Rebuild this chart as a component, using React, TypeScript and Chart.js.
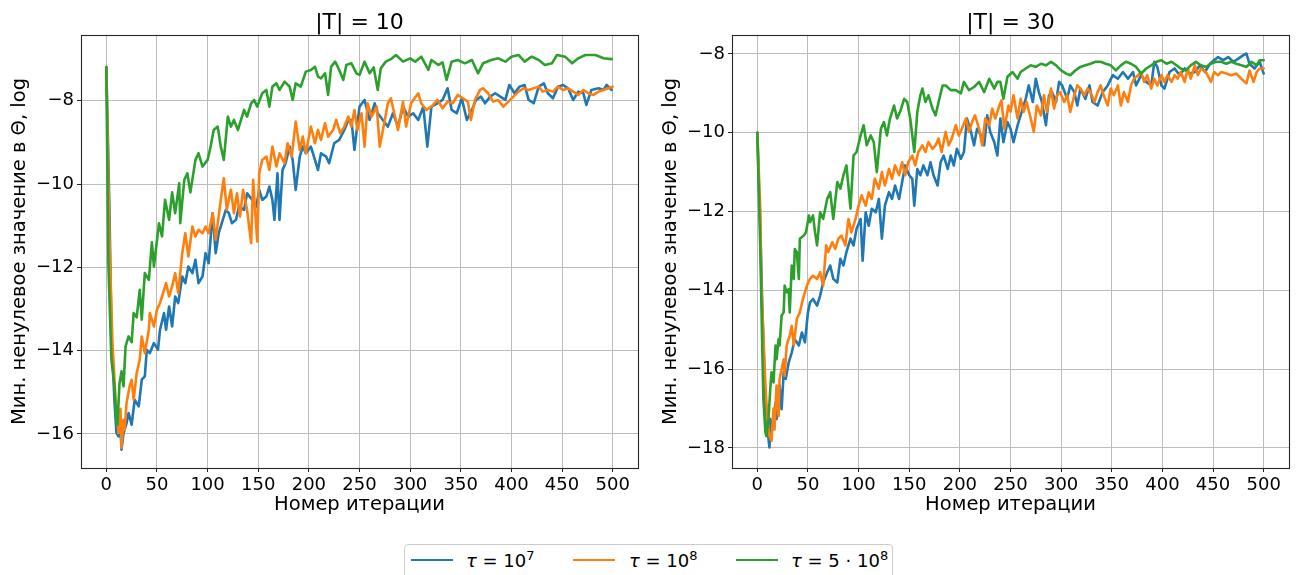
import React, { useEffect, useRef } from "react";
import { Chart, registerables } from "chart.js";

Chart.register(...registerables);

// ---- data: [iteration, log10 of min nonzero value in Θ] ----

const ITER_TICKS = [0, 50, 100, 150, 200, 250, 300, 350, 400, 450, 500];
const Y_TICKS_T10 = [-16, -14, -12, -10, -8];
const Y_TICKS_T30 = [-18, -16, -14, -12, -10, -8];

const SERIES_LABELS = ["τ = 10^7", "τ = 10^8", "τ = 5·10^8"];

const T10_TAU_1E7: [number, number][] = [
  [0, -7.19], [3, -10.5], [5, -13.5], [8, -15.2], [10, -15.98], [12, -16.06], [14, -15.9], [15, -16.38],
  [17, -15.98], [20, -15.74], [22, -15.5], [25, -15.78], [28, -15.18], [32, -15.34], [35, -14.7], [38, -14.62],
  [40, -13.98], [43, -14.06], [47, -13.82], [51, -13.98], [53, -13.5], [57, -13.1], [59, -13.5], [62, -12.94],
  [65, -13.42], [68, -12.7], [71, -12.86], [75, -12.22], [78, -12.38], [81, -11.98], [85, -12.14], [88, -11.82],
  [91, -12.38], [95, -12.22], [98, -11.66], [101, -11.9], [105, -10.7], [108, -11.66], [111, -11.18], [115, -10.86],
  [118, -10.62], [121, -10.7], [124, -10.94], [128, -10.86], [131, -10.54], [136, -10.62], [139, -10.22], [144, -10.38],
  [148, -10.54], [151, -10.14], [154, -10.38], [158, -10.3], [161, -10.06], [164, -10.38], [166, -10.86], [169, -9.74],
  [171, -10.86], [174, -9.66], [177, -9.5], [181, -9.1], [184, -9.42], [187, -10.14], [191, -9.34], [194, -9.1],
  [197, -9.26], [202, -9.1], [206, -9.42], [209, -9.66], [212, -9.26], [217, -9.34], [220, -9.5], [225, -9.02],
  [230, -8.94], [235, -8.7], [239, -8.46], [242, -8.46], [245, -9.18], [250, -8.14], [255, -7.98], [260, -8.46],
  [265, -8.06], [268, -8.3], [273, -8.46], [278, -8.62], [283, -8.3], [288, -8.62], [293, -8.14], [298, -8.38],
  [303, -8.3], [308, -8.46], [313, -8.14], [317, -9.1], [321, -8.14], [327, -8.06], [332, -7.98], [337, -7.7],
  [341, -8.22], [346, -8.3], [351, -7.94], [356, -8.46], [361, -8.22], [365, -7.98], [370, -7.9], [374, -8.06],
  [379, -7.9], [384, -7.82], [389, -7.9], [394, -7.98], [398, -7.62], [403, -7.82], [408, -7.66], [413, -7.62],
  [417, -7.98], [422, -8.06], [427, -7.66], [432, -7.58], [436, -7.82], [441, -7.94], [446, -7.66], [451, -7.62],
  [456, -7.7], [461, -7.98], [466, -7.78], [471, -7.82], [474, -8.1], [479, -7.74], [486, -7.7], [491, -7.74],
  [494, -7.62], [499, -7.74],
];

const T10_TAU_1E8: [number, number][] = [
  [0, -7.19], [3, -11.2], [6, -13.8], [9, -15.1], [10, -15.34], [12, -15.98], [14, -15.4], [15, -16.34],
  [17, -15.66], [18, -15.9], [20, -15.26], [23, -14.86], [25, -14.7], [27, -15.18], [30, -14.54], [33, -14.22],
  [35, -13.66], [38, -14.06], [42, -13.5], [43, -13.1], [47, -13.42], [50, -13.02], [53, -12.86], [57, -12.54],
  [59, -12.38], [62, -12.7], [65, -12.46], [68, -12.14], [71, -12.62], [75, -11.66], [78, -11.18], [81, -11.74],
  [85, -11.02], [88, -11.26], [91, -11.1], [95, -11.18], [98, -11.02], [101, -11.18], [105, -10.7], [108, -11.34],
  [113, -10.38], [116, -9.86], [119, -10.62], [123, -10.14], [126, -10.7], [129, -10.22], [132, -10.78], [135, -10.14],
  [139, -10.62], [143, -11.42], [145, -9.9], [149, -11.38], [151, -9.74], [154, -9.42], [158, -9.34], [161, -9.66],
  [164, -9.1], [168, -9.58], [171, -9.26], [176, -9.5], [179, -9.02], [183, -9.34], [187, -8.5], [191, -9.18],
  [194, -8.86], [197, -9.26], [202, -8.62], [206, -9.02], [209, -8.7], [212, -8.94], [216, -8.54], [219, -8.86],
  [224, -8.7], [227, -8.46], [231, -8.78], [235, -8.62], [239, -8.38], [242, -8.62], [245, -8.22], [248, -8.7],
  [252, -8.3], [255, -9.1], [258, -8.06], [262, -8.38], [267, -8.14], [270, -9.1], [275, -8.46], [278, -8.06],
  [281, -7.94], [288, -8.7], [293, -8.02], [296, -8.62], [301, -8.06], [308, -7.82], [311, -8.06], [316, -8.22],
  [321, -8.14], [327, -7.98], [332, -8.18], [337, -8.02], [342, -8.06], [347, -7.86], [352, -7.94], [357, -8.02],
  [360, -8.46], [364, -7.98], [369, -7.74], [372, -7.7], [377, -7.82], [382, -8.02], [387, -7.98], [392, -8.14],
  [397, -8.02], [402, -7.9], [407, -7.78], [412, -7.7], [417, -7.74], [422, -7.7], [427, -7.66], [431, -7.78],
  [436, -7.74], [441, -7.78], [446, -7.66], [451, -7.74], [456, -7.7], [461, -7.78], [466, -7.86], [471, -7.74],
  [476, -7.82], [481, -7.86], [486, -7.78], [491, -7.74], [496, -7.7], [500, -7.66],
];

const T10_TAU_5E8: [number, number][] = [
  [0, -7.19], [2, -11.9], [5, -14.2], [8, -14.86], [10, -15.74], [11, -15.78], [13, -14.8], [15, -14.5],
  [17, -14.86], [19, -13.9], [22, -13.66], [25, -13.8], [27, -13.1], [30, -13.2], [33, -12.54], [35, -13.26],
  [38, -12.14], [42, -12.3], [45, -11.4], [47, -11.98], [52, -10.94], [55, -11.26], [58, -10.38], [62, -10.86],
  [65, -10.2], [68, -10.7], [72, -9.98], [73, -10.94], [77, -9.9], [80, -9.74], [83, -10.2], [88, -9.42],
  [91, -9.26], [95, -9.58], [100, -9.42], [103, -9.1], [106, -8.7], [110, -8.62], [113, -9.1], [116, -9.42],
  [120, -8.38], [123, -8.62], [126, -8.46], [130, -8.7], [133, -8.46], [136, -8.22], [139, -8.38], [143, -8.06],
  [146, -7.98], [149, -8.14], [154, -7.82], [158, -7.74], [161, -8.14], [164, -7.66], [168, -7.58], [171, -7.74],
  [176, -7.54], [181, -7.66], [184, -7.98], [187, -7.58], [192, -7.66], [197, -7.3], [202, -7.26], [206, -7.18],
  [209, -7.42], [212, -7.46], [216, -7.34], [219, -7.86], [222, -7.18], [226, -7.06], [230, -7.26], [234, -7.5],
  [237, -7.14], [242, -7.1], [247, -7.34], [250, -7.38], [255, -7.06], [260, -7.34], [264, -7.2], [268, -7.74],
  [271, -7.22], [276, -7.06], [281, -7.0], [286, -6.9], [293, -7.06], [300, -6.98], [305, -7.06], [311, -6.94],
  [318, -7.26], [321, -7.02], [328, -7.14], [332, -7.08], [336, -7.5], [341, -7.06], [347, -7.02], [354, -7.1],
  [361, -7.02], [367, -7.34], [372, -7.1], [380, -7.02], [387, -6.98], [394, -7.06], [400, -6.94], [407, -6.9],
  [413, -7.06], [420, -6.94], [427, -7.02], [433, -7.14], [440, -7.1], [445, -6.9], [453, -6.94], [460, -7.1],
  [466, -6.98], [473, -6.9], [483, -6.9], [491, -6.98], [499, -7.0],
];

const T30_TAU_1E7: [number, number][] = [
  [0, -10.0], [3, -12.5], [5, -14.5], [8, -16.85], [10, -17.53], [12, -17.99], [13, -17.27], [15, -17.53],
  [18, -16.85], [19, -17.27], [22, -16.42], [24, -17.02], [26, -16.08], [28, -16.25], [31, -15.83], [34, -15.58],
  [37, -15.24], [41, -15.4], [44, -15.07], [47, -15.32], [50, -14.56], [52, -14.31], [55, -14.22], [59, -14.39],
  [62, -14.14], [65, -13.8], [69, -13.54], [72, -13.37], [75, -13.71], [79, -13.8], [82, -13.2], [85, -13.37],
  [88, -13.03], [92, -12.69], [95, -12.86], [98, -12.44], [102, -12.19], [104, -13.25], [107, -12.02], [110, -12.36],
  [113, -11.93], [117, -12.02], [120, -11.68], [123, -12.69], [126, -11.85], [130, -11.51], [133, -11.68], [136, -11.34],
  [140, -11.68], [143, -11.25], [146, -10.83], [150, -11.08], [153, -11.17], [155, -11.85], [158, -10.92], [161, -11.08],
  [164, -10.83], [168, -11.08], [171, -10.75], [174, -11.08], [178, -11.34], [181, -10.75], [184, -10.58], [188, -10.92],
  [191, -10.58], [194, -10.83], [197, -10.41], [201, -10.66], [204, -10.49], [207, -9.64], [211, -9.98], [214, -10.32],
  [217, -9.9], [221, -10.07], [224, -10.32], [227, -9.56], [230, -9.98], [234, -10.24], [237, -10.58], [240, -9.64],
  [243, -10.24], [247, -9.73], [250, -9.9], [253, -10.24], [257, -9.81], [260, -9.56], [265, -9.14], [268, -8.8],
  [272, -9.22], [275, -8.63], [278, -8.97], [281, -9.22], [285, -9.81], [288, -9.05], [291, -8.97], [295, -9.22],
  [298, -8.71], [301, -8.8], [306, -9.14], [309, -8.8], [313, -8.97], [316, -9.31], [319, -8.88], [324, -9.14],
  [328, -8.8], [331, -9.22], [336, -9.31], [341, -8.97], [346, -8.8], [351, -8.54], [356, -8.63], [361, -8.46],
  [366, -8.63], [371, -8.46], [374, -8.8], [379, -8.54], [384, -8.71], [389, -8.8], [392, -8.2], [395, -8.33],
  [399, -8.8], [402, -8.88], [407, -8.46], [412, -8.37], [417, -8.54], [422, -8.37], [427, -8.5], [432, -8.46],
  [437, -8.29], [442, -8.46], [447, -8.25], [451, -8.16], [455, -8.08], [460, -8.16], [465, -8.08], [470, -8.2],
  [475, -8.12], [480, -8.03], [483, -7.99], [486, -8.25], [491, -8.37], [496, -8.2], [500, -8.5],
];

const T30_TAU_1E8: [number, number][] = [
  [0, -10.0], [3, -12.0], [4, -13.9], [8, -16.42], [10, -17.27], [12, -17.7], [14, -17.82], [16, -17.0],
  [17, -17.53], [19, -16.42], [21, -17.19], [22, -16.25], [24, -16.0], [26, -15.75], [27, -16.17], [29, -15.4],
  [32, -15.15], [34, -14.9], [36, -15.4], [39, -14.73], [42, -14.56], [45, -14.22], [49, -13.88], [52, -13.71],
  [55, -13.63], [59, -13.71], [62, -13.54], [65, -13.88], [68, -12.86], [70, -13.03], [74, -12.78], [77, -12.95],
  [80, -12.69], [83, -12.61], [87, -12.86], [90, -12.19], [93, -12.53], [97, -12.19], [100, -11.85], [103, -11.59],
  [107, -11.85], [110, -11.51], [113, -11.68], [116, -11.17], [120, -11.42], [123, -11.0], [126, -11.34], [130, -10.92],
  [133, -11.17], [136, -10.83], [140, -11.08], [143, -10.75], [146, -11.08], [149, -10.75], [153, -10.58], [156, -10.83],
  [159, -10.49], [163, -10.32], [166, -10.49], [169, -10.24], [173, -10.41], [176, -10.32], [179, -10.15], [182, -10.49],
  [186, -9.98], [189, -10.32], [192, -10.15], [196, -9.81], [199, -10.07], [202, -9.9], [206, -9.64], [209, -9.98],
  [212, -9.73], [215, -9.56], [219, -9.9], [222, -10.32], [225, -9.64], [229, -9.81], [232, -9.39], [235, -9.64],
  [239, -9.31], [241, -9.18], [244, -9.9], [248, -9.31], [250, -9.47], [253, -9.05], [257, -9.64], [260, -9.14],
  [263, -9.47], [266, -9.22], [270, -9.64], [273, -9.98], [276, -9.31], [280, -9.56], [283, -9.05], [286, -9.47],
  [290, -8.88], [293, -9.39], [296, -9.05], [299, -8.97], [303, -9.22], [306, -9.05], [309, -9.47], [313, -9.05],
  [316, -8.8], [319, -8.88], [323, -9.05], [326, -8.88], [329, -8.97], [333, -9.22], [336, -8.97], [339, -8.8],
  [342, -9.05], [346, -9.31], [349, -8.88], [352, -9.05], [356, -8.8], [359, -9.31], [362, -8.97], [366, -9.22],
  [369, -8.8], [372, -8.63], [376, -8.54], [379, -8.46], [382, -8.71], [385, -8.54], [389, -8.88], [392, -8.63],
  [395, -8.8], [399, -8.54], [402, -8.71], [405, -8.54], [409, -8.71], [412, -8.54], [415, -8.63], [418, -8.46],
  [422, -8.71], [425, -8.37], [428, -8.63], [432, -8.29], [435, -8.54], [438, -8.37], [443, -8.46], [448, -8.71],
  [451, -8.46], [455, -8.54], [458, -8.46], [463, -8.5], [468, -8.54], [473, -8.5], [478, -8.63], [483, -8.75],
  [486, -8.42], [490, -8.71], [493, -8.46], [496, -8.37], [500, -8.37],
];

const T30_TAU_5E8: [number, number][] = [
  [0, -10.0], [3, -13.03], [5, -15.58], [6, -16.76], [8, -17.6], [9, -17.7], [11, -17.27], [13, -16.42],
  [14, -16.08], [16, -16.34], [18, -15.4], [19, -15.75], [21, -15.24], [22, -15.4], [24, -14.64], [26, -14.56],
  [27, -13.88], [29, -14.05], [31, -13.97], [32, -14.56], [34, -13.37], [36, -13.71], [37, -12.95], [39, -13.03],
  [41, -13.71], [42, -12.69], [46, -12.61], [48, -12.53], [51, -12.1], [52, -12.27], [55, -12.1], [57, -12.53],
  [59, -12.86], [62, -12.02], [65, -12.19], [69, -11.68], [72, -11.51], [75, -12.19], [79, -11.25], [82, -11.42],
  [85, -11.08], [88, -10.83], [92, -11.93], [95, -10.58], [98, -10.49], [102, -10.07], [105, -9.81], [108, -10.32],
  [112, -10.07], [115, -10.24], [118, -11.0], [122, -9.9], [125, -9.73], [128, -10.07], [131, -9.64], [135, -9.31],
  [138, -9.64], [141, -9.47], [145, -9.14], [148, -9.22], [151, -9.64], [155, -10.49], [158, -9.47], [161, -9.05],
  [163, -8.88], [166, -9.22], [169, -9.05], [173, -9.39], [176, -9.56], [179, -9.22], [183, -8.8], [186, -8.8],
  [191, -8.92], [196, -8.92], [201, -9.0], [204, -8.71], [209, -8.92], [214, -8.84], [219, -8.71], [224, -8.97],
  [229, -8.63], [234, -8.88], [237, -8.71], [240, -8.71], [243, -9.14], [247, -8.58], [252, -8.46], [257, -8.63],
  [260, -8.46], [265, -8.37], [270, -8.29], [275, -8.33], [280, -8.25], [285, -8.29], [290, -8.2], [295, -8.29],
  [300, -8.42], [305, -8.5], [309, -8.54], [314, -8.42], [319, -8.33], [324, -8.29], [329, -8.25], [334, -8.2],
  [339, -8.2], [344, -8.25], [349, -8.29], [354, -8.42], [359, -8.29], [364, -8.2], [369, -8.25], [374, -8.33],
  [379, -8.5], [384, -8.37], [389, -8.29], [394, -8.2], [399, -8.16], [404, -8.25], [409, -8.2], [414, -8.29],
  [418, -8.37], [423, -8.42], [428, -8.29], [433, -8.2], [438, -8.29], [443, -8.33], [448, -8.25], [453, -8.2],
  [458, -8.2], [463, -8.25], [468, -8.2], [473, -8.25], [478, -8.29], [483, -8.33], [488, -8.2], [493, -8.29],
  [496, -8.16], [500, -8.16],
];

// ---- styling ----

const COLORS = ["#1f77b4", "#ff7f0e", "#2ca02c"];
const FONT = "DejaVu Sans";
const Y_TITLE = "Мин. ненулевое значение в Θ, log";
const X_TITLE = "Номер итерации";

const fmtTick = (v: number) => (v < 0 ? "\u2212" + Math.abs(v) : String(v));

// full rectangular frame around the plot area
const framePlugin = {
  id: "frame",
  afterDatasetsDraw(chart: any) {
    const { ctx, chartArea: a } = chart;
    ctx.save();
    ctx.strokeStyle = "#262626";
    ctx.lineWidth = 1.1;
    ctx.strokeRect(Math.round(a.left) + 0.5, Math.round(a.top) + 0.5, Math.round(a.right - a.left), Math.round(a.bottom - a.top));
    ctx.restore();
  },
};

type PanelProps = {
  title: string;
  series: [number, number][][];
  yMin: number;
  yMax: number;
  yTicks: number[];
  left: number;
};

function Panel({ title, series, yMin, yMax, yTicks, left }: PanelProps) {
  const ref = useRef<HTMLCanvasElement | null>(null);

  useEffect(() => {
    if (!ref.current) return;
    const grid = {
      color: "#bcbcbc",
      lineWidth: 1,
      drawTicks: true,
      tickLength: 4,
      tickColor: "#262626",
      tickWidth: 1,
    };
    const tickFont = { family: FONT, size: 18 };
    const axisTitleFont = { family: FONT, size: 19.5 };
    const chart = new Chart(ref.current, {
      type: "line",
      data: {
        datasets: series.map((s, i) => ({
          label: SERIES_LABELS[i],
          data: s.map(([x, y]) => ({ x, y })),
          borderColor: COLORS[i],
          backgroundColor: COLORS[i],
          borderWidth: 2.6,
          borderJoinStyle: "round" as const,
          borderCapStyle: "round" as const,
          pointRadius: 0,
          tension: 0,
          fill: false,
          order: 3 - i,
        })),
      },
      options: {
        animation: false,
        responsive: false,
        maintainAspectRatio: false,
        devicePixelRatio: 1,
        events: [],
        layout: { padding: { left: 0, right: 12, top: 0, bottom: 0 } },
        plugins: {
          legend: { display: false },
          tooltip: { enabled: false },
          title: {
            display: true,
            text: title,
            fullSize: false,
            color: "#000",
            font: { family: FONT, size: 22, weight: "normal", lineHeight: 1 },
            padding: { top: 12, bottom: 1 },
          },
        },
        scales: {
          x: {
            type: "linear",
            min: -25,
            max: 525,
            afterBuildTicks: (s: any) => {
              s.ticks = ITER_TICKS.map((v) => ({ value: v }));
            },
            afterFit: (s: any) => {
              s.height = 52;
            },
            grid,
            border: { display: false },
            ticks: { font: tickFont, color: "#000", padding: 3, maxRotation: 0, autoSkip: false, callback: (v: any) => fmtTick(Number(v)) },
            title: { display: true, text: X_TITLE, color: "#000", font: axisTitleFont, padding: { top: 0, bottom: 3 } },
          },
          y: {
            type: "linear",
            min: yMin,
            max: yMax,
            afterBuildTicks: (s: any) => {
              s.ticks = yTicks.map((v) => ({ value: v }));
            },
            afterFit: (s: any) => {
              s.width = 81;
            },
            grid,
            border: { display: false },
            ticks: { font: tickFont, color: "#000", padding: 3, autoSkip: false, callback: (v: any) => fmtTick(Number(v)) },
            title: { display: true, text: Y_TITLE, color: "#000", font: axisTitleFont, padding: { top: 8, bottom: 0 } },
          },
        },
      },
      plugins: [framePlugin],
    } as any);
    return () => chart.destroy();
  }, [title, series, yMin, yMax, yTicks]);

  return (
    <canvas
      ref={ref}
      width={650}
      height={520}
      style={{ position: "absolute", left, top: 0, width: 650, height: 520 }}
    />
  );
}

function LegendEntry({ color, lineLeft, textLeft, base, power }: { color: string; lineLeft: number; textLeft: number; base: string; power: string }) {
  return (
    <>
      <div style={{ position: "absolute", left: lineLeft, top: 14, width: 42, height: 2.4, background: color }} />
      <div style={{ position: "absolute", left: textLeft, top: 5, fontFamily: FONT, fontSize: 18, lineHeight: "22px", color: "#000", whiteSpace: "nowrap" }}>
        <span style={{ fontStyle: "italic" }}>τ</span>
        {" = " + base}
        <span style={{ fontSize: 13, position: "relative", top: -7 }}>{power}</span>
      </div>
    </>
  );
}

export default function App() {
  return (
    <div style={{ position: "absolute", left: 0, top: 0, width: 1300, height: 575, overflow: "hidden", background: "#fff" }}>
      <Panel title="|T| = 10" series={[T10_TAU_1E7, T10_TAU_1E8, T10_TAU_5E8]} yMin={-16.82} yMax={-6.42} yTicks={Y_TICKS_T10} left={0} />
      <Panel title="|T| = 30" series={[T30_TAU_1E7, T30_TAU_1E8, T30_TAU_5E8]} yMin={-18.51} yMax={-7.52} yTicks={Y_TICKS_T30} left={651} />
      <div
        style={{
          position: "absolute",
          left: 404,
          top: 544,
          width: 487,
          height: 44,
          border: "1px solid #cccccc",
          borderRadius: 4,
          background: "#fff",
        }}
      >
        <LegendEntry color={COLORS[0]} lineLeft={6} textLeft={61} base="10" power="7" />
        <LegendEntry color={COLORS[1]} lineLeft={168} textLeft={224} base="10" power="8" />
        <LegendEntry color={COLORS[2]} lineLeft={331} textLeft={386} base="5 · 10" power="8" />
      </div>
    </div>
  );
}
